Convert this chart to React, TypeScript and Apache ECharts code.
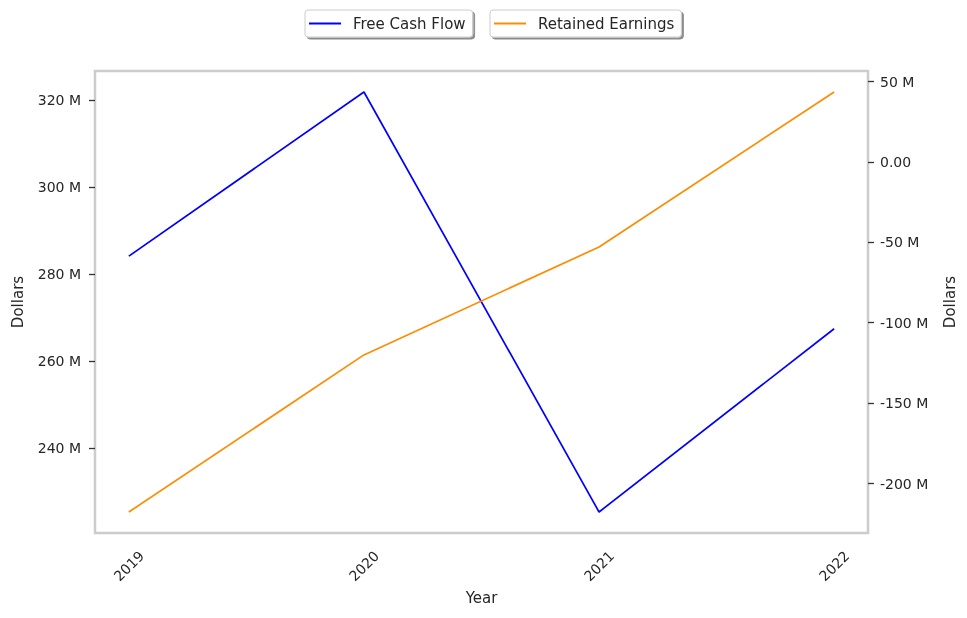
import React, { useEffect, useRef } from "react";
import * as echarts from "echarts";

const years = [2019, 2020, 2021, 2022];
const freeCashFlow = [284.1, 321.8, 225.3, 267.4]; // millions
const retainedEarnings = [-217.7, -120.0, -52.9, 43.5]; // millions
const leftTicks = [240, 260, 280, 300, 320];
const rightTicks = [-200, -150, -100, -50, 0, 50];

const FONT = "DejaVu Sans";
const TXT = "#262626";

function pad(arr: number[], frac: number): [number, number] {
  const lo = Math.min(...arr);
  const hi = Math.max(...arr);
  const r = hi - lo;
  return [lo - r * frac, hi + r * frac];
}

export default function App() {
  const ref = useRef<HTMLDivElement>(null);
  useEffect(() => {
    if (!ref.current) return;
    const chart = echarts.init(ref.current, undefined, { renderer: "svg" });
    const [lMin, lMax] = pad(freeCashFlow, 0.05);
    const [rMin, rMax] = pad(retainedEarnings, 0.05);
    const [xMin, xMax] = pad(years, 0.048);
    const legendCommon = {
      top: 10,
      itemWidth: 32,
      itemHeight: 2,
      icon: "rect",
      padding: [6, 7, 6, 4],
      backgroundColor: "#fff",
      borderColor: "#ccc",
      borderWidth: 1,
      borderRadius: 3,
      shadowColor: "rgba(0,0,0,0.45)",
      shadowBlur: 0,
      shadowOffsetX: 2,
      shadowOffsetY: 2,
      textStyle: { fontFamily: FONT, fontSize: 15, color: TXT, padding: [0, 0, 0, 7] },
    };
    chart.setOption({
      animation: false,
      textStyle: { fontFamily: FONT, color: TXT },
      legend: [
        { ...legendCommon, left: 305, data: ["Free Cash Flow"] },
        { ...legendCommon, left: 490, data: ["Retained Earnings"] },
      ],
      grid: {
        left: 95,
        right: 99,
        top: 71,
        bottom: 85,
        show: true,
        borderColor: "#cccccc",
        borderWidth: 2.5,
        backgroundColor: "#fff",
      },
      xAxis: {
        type: "value",
        min: xMin,
        max: xMax,
        name: "Year",
        nameLocation: "middle",
        nameGap: 57,
        nameTextStyle: { fontFamily: FONT, fontSize: 15, color: TXT },
        axisLine: { show: false },
        axisTick: { show: false },
        splitLine: { show: false },
        axisLabel: {
          customValues: years,
          rotate: 45,
          align: "center",
          verticalAlign: "middle",
          margin: 33,
          fontFamily: FONT,
          fontSize: 14,
          color: TXT,
          formatter: (v: number) => String(v),
        },
      },
      yAxis: [
        {
          type: "value",
          position: "left",
          min: lMin,
          max: lMax,
          name: "Dollars",
          nameLocation: "middle",
          nameGap: 70,
          nameTextStyle: { fontFamily: FONT, fontSize: 15, color: TXT },
          axisLine: { show: false },
          splitLine: { show: false },
          axisTick: { show: true, customValues: leftTicks, length: 6, lineStyle: { color: "#333", width: 1.3 } },
          axisLabel: {
            customValues: leftTicks,
            margin: 14,
            fontFamily: FONT,
            fontSize: 14,
            color: TXT,
            formatter: (v: number) => `${v} M`,
          },
        },
        {
          type: "value",
          position: "right",
          min: rMin,
          max: rMax,
          name: "Dollars",
          nameLocation: "middle",
          nameGap: 74,
          nameTextStyle: { fontFamily: FONT, fontSize: 15, color: TXT },
          axisLine: { show: false },
          splitLine: { show: false },
          axisTick: { show: true, customValues: rightTicks, length: 6, lineStyle: { color: "#333", width: 1.3 } },
          axisLabel: {
            customValues: rightTicks,
            margin: 12,
            fontFamily: FONT,
            fontSize: 14,
            color: TXT,
            formatter: (v: number) => (v === 0 ? "0.00" : `${v} M`),
          },
        },
      ],
      series: [
        {
          name: "Free Cash Flow",
          type: "line",
          yAxisIndex: 0,
          data: years.map((y, i) => [y, freeCashFlow[i]]),
          showSymbol: false,
          lineStyle: { color: "#0000ff", width: 1.7 },
          itemStyle: { color: "#0000ff" },
        },
        {
          name: "Retained Earnings",
          type: "line",
          yAxisIndex: 1,
          data: years.map((y, i) => [y, retainedEarnings[i]]),
          showSymbol: false,
          lineStyle: { color: "#ff8c00", width: 1.7 },
          itemStyle: { color: "#ff8c00" },
        },
      ],
    });
    return () => chart.dispose();
  }, []);
  return (
    <div
      ref={ref}
      style={{ position: "fixed", left: 0, top: 0, width: 967, height: 618 }}
    />
  );
}
